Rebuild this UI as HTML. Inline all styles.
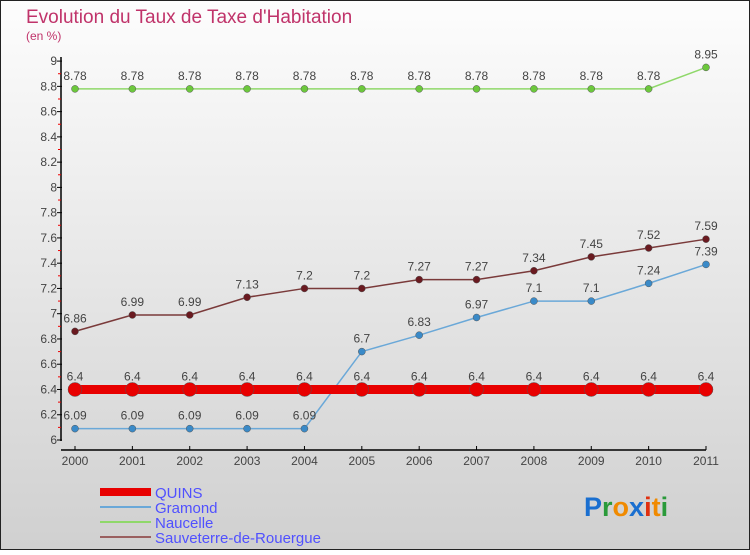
<!DOCTYPE html>
<html><head><meta charset="utf-8"><style>
body{margin:0;width:750px;height:550px;overflow:hidden;font-family:"Liberation Sans",sans-serif}
</style></head><body>
<svg id="c" width="750" height="550" xmlns="http://www.w3.org/2000/svg">
<defs><linearGradient id="bg" x1="0" y1="0" x2="0" y2="1"><stop offset="0" stop-color="#fdfdfd"/><stop offset="1" stop-color="#d0d0d0"/></linearGradient></defs>
<rect x="0.5" y="0.5" width="749" height="549" fill="url(#bg)" stroke="#222"/>
<text x="26" y="23" font-size="19" fill="#c0336a">Evolution du Taux de Taxe d'Habitation</text>
<text x="26" y="40" font-size="12" fill="#c0336a">(en %)</text>
<g id="axes"></g><g id="series"></g><g id="legend"></g>
<text x="584" y="516" font-size="27" font-weight="bold"><tspan fill="#1a6fd0">P</tspan><tspan fill="#2a9a3a">r</tspan><tspan fill="#f08a00">o</tspan><tspan fill="#1a6fd0">x</tspan><tspan fill="#e03010">i</tspan><tspan fill="#f08a00">t</tspan><tspan fill="#2a9a3a">i</tspan></text>
</svg>
<script>
const years=[2000,2001,2002,2003,2004,2005,2006,2007,2008,2009,2010,2011];
const quins=[6.4,6.4,6.4,6.4,6.4,6.4,6.4,6.4,6.4,6.4,6.4,6.4];
const gramond=[6.09,6.09,6.09,6.09,6.09,6.7,6.83,6.97,7.1,7.1,7.24,7.39];
const naucelle=[8.78,8.78,8.78,8.78,8.78,8.78,8.78,8.78,8.78,8.78,8.78,8.95];
const sauveterre=[6.86,6.99,6.99,7.13,7.2,7.2,7.27,7.27,7.34,7.45,7.52,7.59];
const yTicks=[6,6.2,6.4,6.6,6.8,7,7.2,7.4,7.6,7.8,8,8.2,8.4,8.6,8.8,9];
const NS='http://www.w3.org/2000/svg';
const x=i=>75+i*(706-75)/11;
const y=v=>440-(v-6)*126.3;
function el(t,a,p){const e=document.createElementNS(NS,t);for(const k in a)e.setAttribute(k,a[k]);p.appendChild(e);return e;}
const ax=document.getElementById('axes');
let l=el('line',{x1:61,y1:57,x2:61,y2:441,stroke:'#000','stroke-width':1.5},ax);


l=el('line',{x1:61,y1:450,x2:706,y2:450,stroke:'#000','stroke-width':1.5},ax);


yTicks.forEach((v,i)=>{
 el('line',{x1:57,y1:y(v),x2:62,y2:y(v),stroke:'#000'},ax);
 if(i<yTicks.length-1)el('line',{x1:58,y1:y(v+0.1),x2:61,y2:y(v+0.1),stroke:'#e00'},ax);
 const t=el('text',{x:57,y:y(v)+4,'font-size':12,fill:'#444','text-anchor':'end'},ax);t.textContent=String(v);
 
 
});
years.forEach((yr,i)=>{
 el('line',{x1:x(i),y1:446,x2:x(i),y2:450,stroke:'#000'},ax);
 const t=el('text',{x:x(i),y:465,'font-size':12,fill:'#444','text-anchor':'middle'},ax);t.textContent=yr;
 
 
});
const sg=document.getElementById('series');
function draw(vals,color,w,r,fill,name){
 const g=el('g',{},sg);
 
 
 const p=el('polyline',{points:vals.map((v,i)=>x(i)+','+y(v)).join(' '),fill:'none',stroke:color,'stroke-width':w},g);
 
 
 vals.forEach((v,i)=>{
  const c=el('circle',{cx:x(i),cy:y(v),r:r,fill:fill,stroke:'#555','stroke-width':0.5},g);
  
  
  const t=el('text',{x:x(i),y:y(v)-9,'font-size':12,fill:'#444','text-anchor':'middle'},g);t.textContent=String(v);
  
  
 });
}
draw(naucelle,'#8fd86a',1.5,3.5,'#6cc83c','naucelle');
draw(sauveterre,'#7a3a3a',1.5,3.5,'#6a1a20','sauveterre');
draw(gramond,'#6aa8d8',1.5,3.5,'#3a8ac8','gramond');
draw(quins,'#e80000',9,7,'#e80000','quins');
const lg=document.getElementById('legend');
[['QUINS','#e80000',8,'quins'],['Gramond','#6aa8d8',2,'gramond'],['Naucelle','#8fd86a',2,'naucelle'],['Sauveterre-de-Rouergue','#9a6060',2,'sauveterre']].forEach((d,i)=>{
 const yy=492+i*15;
 const g=el('g',{},lg);
 
 
 el('line',{x1:100,y1:yy,x2:151,y2:yy,stroke:d[1],'stroke-width':d[2]},g);
 const t=el('text',{x:155,y:yy+6,'font-size':15,fill:'#5050ff'},g);t.textContent=d[0];
});
</script>
</body></html>
